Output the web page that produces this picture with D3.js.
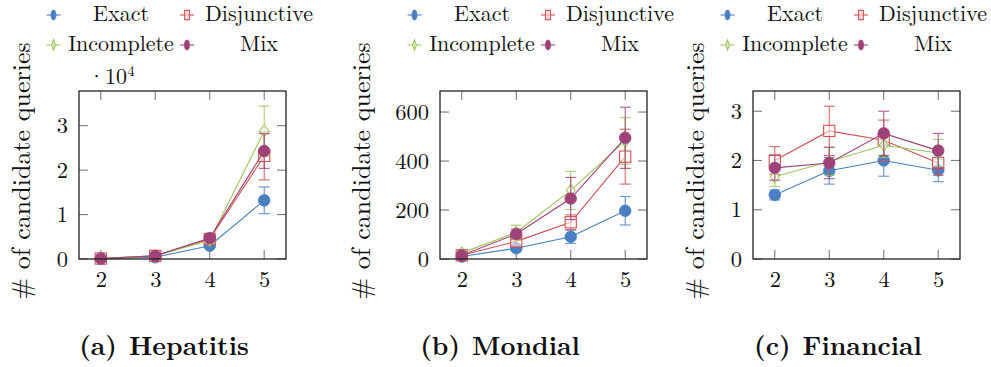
<!DOCTYPE html>
<html><head><meta charset="utf-8">
<script src="https://cdn.jsdelivr.net/npm/d3@7"></script>
<style>
html,body{margin:0;padding:0;background:#fff;}
svg{display:block;}
</style></head><body>
<svg id="chart" width="991" height="367"></svg>
<script>
// ---- data ----
const xCats = [2, 3, 4, 5];
const seriesNames = ["Exact", "Disjunctive", "Incomplete", "Mix"];
const seriesColors = ["#4a7fc2", "#d54f4f", "#9dc65a", "#9f4278"];
const panelTitles = ["(a)", "(b)", "(c)"];
const panelNames = ["Hepatitis", "Mondial", "Financial"];
const yTicksHep = [0, 1, 2, 3];
const yTicksMon = [0, 200, 400, 600];
const yTicksFin = [0, 1, 2, 3];
const yLabel = "# of candidate queries";

// Hepatitis (x 10^4)
const hepExact = [0.005, 0.04, 0.30, 1.32];
const hepExactErr = [0.003, 0.01, 0.04, 0.30];
const hepDisj = [0.01, 0.07, 0.45, 2.32];
const hepDisjErr = [0.004, 0.02, 0.05, 0.54];
const hepInc = [0.01, 0.07, 0.42, 2.88];
const hepIncErr = [0.004, 0.02, 0.05, 0.56];
const hepMix = [0.01, 0.07, 0.47, 2.43];
const hepMixErr = [0.004, 0.02, 0.05, 0.39];

// Mondial
const monExact = [10, 44, 91, 197];
const monExactErr = [3, 12, 27, 58];
const monDisj = [15, 72, 150, 418];
const monDisjErr = [5, 15, 30, 112];
const monInc = [25, 108, 280, 482];
const monIncErr = [6, 30, 78, 95];
const monMix = [15, 102, 247, 495];
const monMixErr = [5, 20, 86, 125];

// Financial
const finExact = [1.30, 1.79, 2.00, 1.80];
const finExactErr = [0.10, 0.27, 0.32, 0.23];
const finDisj = [2.00, 2.60, 2.41, 1.95];
const finDisjErr = [0.28, 0.50, 0.41, 0.25];
const finInc = [1.67, 1.98, 2.31, 2.15];
const finIncErr = [0.20, 0.28, 0.25, 0.28];
const finMix = [1.85, 1.95, 2.55, 2.20];
const finMixErr = [0.25, 0.32, 0.45, 0.35];

const panels = [
  {yMax: 3.78, ticks: yTicksHep, vals: [hepExact, hepDisj, hepInc, hepMix], errs: [hepExactErr, hepDisjErr, hepIncErr, hepMixErr], sci: true},
  {yMax: 686, ticks: yTicksMon, vals: [monExact, monDisj, monInc, monMix], errs: [monExactErr, monDisjErr, monIncErr, monMixErr], sci: false},
  {yMax: 3.41, ticks: yTicksFin, vals: [finExact, finDisj, finInc, finMix], errs: [finExactErr, finDisjErr, finIncErr, finMixErr], sci: false}
];

// ---- layout ----
const boxLeft = [79, 440, 753];
const boxW = 207, boxTop = 91, boxBottom = 259;
const yLabelX = [30, 370, 704];
const captionX = [164, 500, 838];
const FONT = "'Latin Modern Roman', 'Liberation Serif', 'Times New Roman'";

const svg = d3.select("#chart");

function drawMarker(g, i, cx, cy, sx, sy) {
  const c = seriesColors[i];
  if (i === 0 || i === 3) {
    g.append("ellipse").attr("cx", cx).attr("cy", cy).attr("rx", 5.8 * sx).attr("ry", 5.8 * sy)
      .attr("fill", c).attr("stroke", c).attr("stroke-width", 0.8);
  } else if (i === 1) {
    g.append("rect").attr("x", cx - 5.6 * sx).attr("y", cy - 5.6 * sy).attr("width", 11.2 * sx).attr("height", 11.2 * sy)
      .attr("fill", "rgba(255,255,255,0.55)").attr("stroke", c).attr("stroke-width", 1.1);
  } else {
    const w = 4.5 * sx, h = 6 * sy;
    g.append("path").attr("d", `M${cx},${cy - h}L${cx + w},${cy}L${cx},${cy + h}L${cx - w},${cy}Z`)
      .attr("fill", "rgba(255,255,255,0.55)").attr("stroke", c).attr("stroke-width", 1.1);
  }
}

panels.forEach((p, pi) => {
  const L = boxLeft[pi];
  const g = svg.append("g");
  const x = d3.scaleLinear().domain([1.6, 5.4]).range([L, L + boxW]);
  const y = d3.scaleLinear().domain([0, p.yMax]).range([boxBottom, boxTop]);

  // ticks (inside, both sides)
  const tickLen = 9;
  const tg = g.append("g").attr("stroke", "#7a7a7a").attr("stroke-width", 1.1);
  xCats.forEach(v => {
    tg.append("line").attr("x1", x(v)).attr("x2", x(v)).attr("y1", boxBottom).attr("y2", boxBottom - tickLen);
    tg.append("line").attr("x1", x(v)).attr("x2", x(v)).attr("y1", boxTop).attr("y2", boxTop + tickLen);
  });
  p.ticks.forEach(v => {
    tg.append("line").attr("x1", L).attr("x2", L + tickLen).attr("y1", y(v)).attr("y2", y(v));
    tg.append("line").attr("x1", L + boxW).attr("x2", L + boxW - tickLen).attr("y1", y(v)).attr("y2", y(v));
  });

  // tick labels
  const xAxis = d3.axisBottom(x).tickValues(xCats).tickSize(0).tickPadding(12).tickFormat(d3.format("d"));
  const xa = g.append("g").attr("transform", `translate(0,${boxBottom})`).call(xAxis);
  xa.select(".domain").remove();
  xa.selectAll("text").style("font-size", "22.5px").attr("fill", "#111");
  const yAxis = d3.axisLeft(y).tickValues(p.ticks).tickSize(0).tickPadding(11).tickFormat(d3.format("d"));
  const ya = g.append("g").attr("transform", `translate(${L},0)`).call(yAxis);
  ya.select(".domain").remove();
  ya.selectAll("text").style("font-size", "22.5px").attr("fill", "#111");

  if (p.sci) {
    const t = g.append("text").attr("x", L + 9).attr("y", 84).style("font-size", "22px").attr("fill", "#111");
    t.append("tspan").text("·10");
    t.append("tspan").style("font-size", "15px").attr("dy", -8).text("4");
  }

  // series
  p.vals.forEach((vals, si) => {
    const c = seriesColors[si];
    const sg = g.append("g");
    const line = d3.line().x((d, k) => x(xCats[k])).y(d => y(d));
    sg.append("path").datum(vals).attr("d", line).attr("fill", "none").attr("stroke", c).attr("stroke-width", 1.1);
    vals.forEach((v, k) => {
      const e = p.errs[si][k];
      const cx = x(xCats[k]);
      const eg = sg.append("g").attr("stroke", c).attr("stroke-width", 1.1).attr("opacity", 0.85);
      eg.append("line").attr("x1", cx).attr("x2", cx).attr("y1", y(v - e)).attr("y2", y(v + e));
      eg.append("line").attr("x1", cx - 5.5).attr("x2", cx + 5.5).attr("y1", y(v - e)).attr("y2", y(v - e));
      eg.append("line").attr("x1", cx - 5.5).attr("x2", cx + 5.5).attr("y1", y(v + e)).attr("y2", y(v + e));
    });
    vals.forEach((v, k) => drawMarker(sg, si, x(xCats[k]), y(v), 1, 1));
  });

  // box
  g.append("rect").attr("x", L).attr("y", boxTop).attr("width", boxW).attr("height", boxBottom - boxTop)
    .attr("fill", "none").attr("stroke", "#222").attr("stroke-width", 1.3);

  // y label
  g.append("text").attr("transform", `translate(${yLabelX[pi]},171) rotate(-90)`)
    .attr("text-anchor", "middle").style("font-size", "26px").attr("fill", "#111").text(yLabel);

  // legend
  const lg = g.append("g");
  const colMarker = [L - 25.5, L + 108];
  const colText = [L + 42, L + 180];
  const rowY = [21, 51];
  seriesNames.forEach((name, si) => {
    const col = si % 2, row = Math.floor(si / 2);
    const mx = colMarker[col], my = rowY[row] - 6;
    const c = seriesColors[si];
    lg.append("line").attr("x1", mx - 7).attr("x2", mx + 7).attr("y1", my).attr("y2", my).attr("stroke", c).attr("stroke-width", 1.1);
    lg.append("line").attr("x1", mx).attr("x2", mx).attr("y1", my - 5).attr("y2", my + 5).attr("stroke", c).attr("stroke-width", 1);
    drawMarker(lg, si, mx, my, 0.42, 0.85);
    lg.append("text").attr("x", colText[col]).attr("y", rowY[row]).attr("text-anchor", "middle")
      .style("font-size", "22px").attr("fill", "#111").text(name);
  });

  // caption
  const cap = g.append("text").attr("x", captionX[pi]).attr("y", 355).attr("text-anchor", "middle")
    .style("font-size", "26px").style("font-weight", "bold").attr("fill", "#111");
  cap.append("tspan").text(panelTitles[pi]);
  cap.append("tspan").attr("dx", 12).text(panelNames[pi]);
});

svg.selectAll("text").style("font-family", FONT);
svg.selectAll("g").attr("font-family", null);
</script>
</body></html>
